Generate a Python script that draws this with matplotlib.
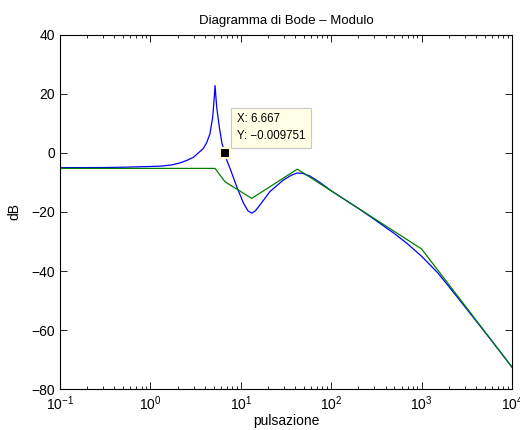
import matplotlib
matplotlib.use("Agg")
import matplotlib.pyplot as plt
from matplotlib.ticker import LogLocator, NullFormatter

plt.rcParams["font.family"] = ["Liberation Sans", "DejaVu Sans"]
plt.rcParams["mathtext.fontset"] = "custom"
plt.rcParams["mathtext.rm"] = "Liberation Sans"

# risposta reale (modulo, dB)
w_real = [0.1, 0.3, 0.5, 1.0, 1.28, 1.7, 2.12, 2.5, 2.99, 3.4, 3.85, 4.2, 4.56, 4.89,
          5.09, 5.19, 5.41, 5.78, 6.19, 6.667, 7.0, 7.72, 9.0, 10.7, 12.0, 13.2,
          14.5, 16.3, 21.0, 29.5, 36.0, 42.0, 48.0, 58.0, 75.0, 100.0, 200.0, 300.0,
          500.0, 700.0, 1000.0, 1500.0, 2000.0, 3000.0, 5000.0, 10000.0]
db_real = [-5.0, -4.95, -4.85, -4.6, -4.5, -4.1, -3.4, -2.6, -1.5, 0.0, 1.5, 3.5, 6.5, 12.1,
           18.9, 22.8, 15.5, 8.8, 3.2, -0.009751, -2.5, -5.8, -11.4, -17.0, -19.6, -20.4,
           -19.6, -17.6, -13.1, -9.2, -7.6, -6.8, -6.9, -7.8, -10.0, -12.8, -18.8, -22.5,
           -27.3, -30.8, -35.0, -40.5, -45.2, -52.0, -60.6, -72.5]

# diagramma asintotico
w_asint = [0.1, 5.19, 6.7, 13.2, 42.2, 1000.0, 10000.0]
db_asint = [-5.25, -5.25, -9.8, -15.4, -5.5, -32.5, -72.5]

# datatip
tip_x = 6.667
tip_y = -0.009751

fig = plt.figure(figsize=(5.2, 4.3), dpi=100)
ax = fig.add_axes([0.1154, 0.0947, 0.8692, 0.8246])

ax.semilogx(w_real, db_real, color="#0000ff", lw=0.9)
ax.semilogx(w_asint, db_asint, color="#008000", lw=0.9)

ax.plot([tip_x], [tip_y], "s", ms=6.5, mfc="black", mec="#fffbd0", mew=1.5, zorder=5)
ax.annotate(f"X: {tip_x}\nY: \u2212{abs(tip_y)}", xy=(tip_x, tip_y),
            xytext=(12, 11), textcoords="offset pixels", ha="left", va="bottom",
            fontsize=8.3, linespacing=1.5, zorder=6,
            bbox=dict(boxstyle="square,pad=0.5", fc="#ffffe6", ec="#c8c8c8", lw=0.8))

ax.set_xlim(0.1, 10000)
ax.set_ylim(-80, 40)
ax.set_yticks(range(-80, 41, 20))
ax.xaxis.set_major_locator(LogLocator(base=10, numticks=10))
ax.xaxis.set_minor_locator(LogLocator(base=10, subs=range(2, 10), numticks=100))
ax.xaxis.set_minor_formatter(NullFormatter())

ax.tick_params(which="both", direction="in", top=True, right=True, labelsize=10, width=0.6)
ax.tick_params(which="major", length=5)
ax.tick_params(which="minor", length=2.5)
for s in ax.spines.values():
    s.set_linewidth(0.8)

ax.set_title("Diagramma di Bode \u2013 Modulo", fontsize=9.5, pad=8)
ax.set_xlabel("pulsazione", fontsize=10, labelpad=1)
ax.set_ylabel("dB", fontsize=10, labelpad=7)

fig.savefig("out.png", dpi=100)
